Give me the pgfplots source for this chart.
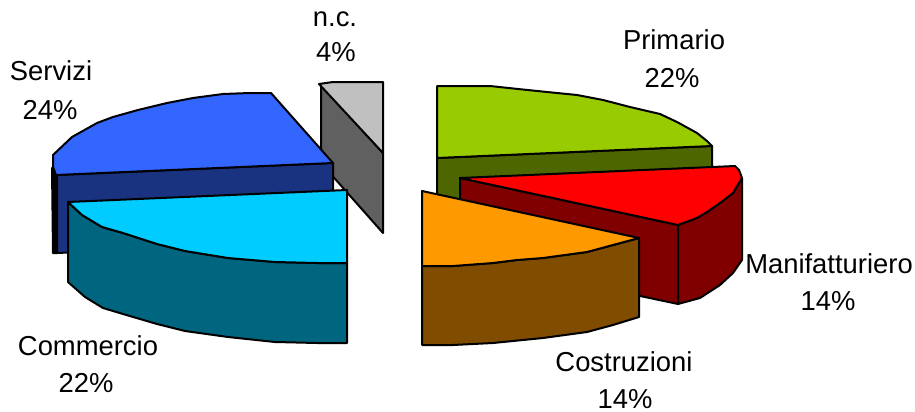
\documentclass[border=0pt]{standalone}
\usepackage{pgfplots}
\usepackage{fontspec}
\setmainfont{Liberation Sans}
\pgfplotsset{compat=1.18}
\definecolor{servT}{HTML}{3366FF}\definecolor{servS}{HTML}{1A3380}
\definecolor{commT}{HTML}{00CCFF}\definecolor{commS}{HTML}{006680}
\definecolor{ncT}{HTML}{C0C0C0}\definecolor{ncS}{HTML}{606060}
\definecolor{primT}{HTML}{99CC00}\definecolor{primS}{HTML}{4D6600}
\definecolor{manT}{HTML}{FF0000}\definecolor{manS}{HTML}{800000}
\definecolor{cosT}{HTML}{FF9900}\definecolor{cosS}{HTML}{804D00}
\tikzset{lab/.style={font=\fontsize{27.4}{30}\selectfont, anchor=base, inner sep=0pt, text=black}}
\begin{document}
\begin{tikzpicture}
\useasboundingbox (0,0) rectangle (915pt,412pt);
\begin{axis}[
  at={(0,0)}, anchor=south west,
  scale only axis, width=915pt, height=412pt,
  xmin=0, xmax=915, ymin=0, ymax=412, y dir=reverse,
  hide axis, clip=false,
  every axis plot/.append style={draw=black, line width=2pt, line join=round, mark=none},
]
% n.c. wedge
\addplot[fill=ncS] coordinates {(321,85)(383,153)(383,233)(321,163)} -- cycle;
\addplot[fill=ncT] coordinates {(319,84)(333,82)(383,82)(383,153)} -- cycle;
% Servizi wedge
\addplot[fill=black] coordinates {(52,168)(57,175)(57,253)(53,253)} -- cycle;
\addplot[fill=servS] coordinates {(57,175)(333,163)(333,241)(57,253)} -- cycle;
\addplot[fill=servT] coordinates {(56,175)(53,167)(53,155)(72,137)(97,123)(113,117)(138,110)(167,103)(193,98)(223,94)(250,93)(271,93)(333,163)} -- cycle;
% Commercio wedge
\addplot[fill=commS] coordinates {(68,202)(82,215)(102,227)(123,233)(157,244)(185,251)(228,258)(275,262)(317,263)(347,263)(347,343)(317,343)(275,342)(228,337)(185,331)(157,324)(123,314)(103,308)(85,297)(68,282)} -- cycle;
\addplot[fill=commT] coordinates {(68,202)(347,190)(347,263)(317,263)(275,262)(228,258)(185,251)(157,244)(123,233)(102,227)(82,215)} -- cycle;
% Primario wedge
\addplot[fill=primS] coordinates {(437,158)(712,146)(712,226)(437,238)} -- cycle;
\addplot[fill=primT] coordinates {(437,86)(490,86)(518,89)(547,92)(577,95)(603,100)(630,107)(660,114)(677,122)(697,133)(707,141)(712,146)(437,158)} -- cycle;
% Manifatturiero wedge
\addplot[fill=manS] coordinates {(460,178)(678,225)(678,304)(460,258)} -- cycle;
\addplot[fill=manS] coordinates {(678,225)(697,218)(707,212)(720,203)(733,193)(742,178)(742,260)(733,273)(720,285)(700,298)(678,304)} -- cycle;
\addplot[fill=manT] coordinates {(460,178)(735,166)(739,170)(742,178)(733,193)(720,203)(707,212)(697,218)(678,225)} -- cycle;
% Costruzioni wedge
\addplot[fill=cosS] coordinates {(422,266)(453,266)(493,263)(517,260)(543,258)(587,252)(613,245)(639,238)(639,317)(613,325)(587,332)(543,338)(493,343)(453,345)(422,345)} -- cycle;
\addplot[fill=cosT] coordinates {(422,191)(639,238)(613,245)(587,252)(543,258)(517,260)(493,263)(453,266)(422,266)} -- cycle;
% Category names and shares
\node[lab] at (axis cs:335,27) {n.c.};
\node[lab] at (axis cs:336,62) {4\%};
\node[lab] at (axis cs:674,50) {Primario};
\node[lab] at (axis cs:672,87) {22\%};
\node[lab] at (axis cs:51,81) {Servizi};
\node[lab] at (axis cs:50,119) {24\%};
\node[lab] at (axis cs:88,355) {Commercio};
\node[lab] at (axis cs:86,392) {22\%};
\node[lab] at (axis cs:829,273) {Manifatturiero};
\node[lab] at (axis cs:828,310) {14\%};
\node[lab] at (axis cs:624,371) {Costruzioni};
\node[lab] at (axis cs:625,408) {14\%};
\end{axis}
\end{tikzpicture}
\end{document}
